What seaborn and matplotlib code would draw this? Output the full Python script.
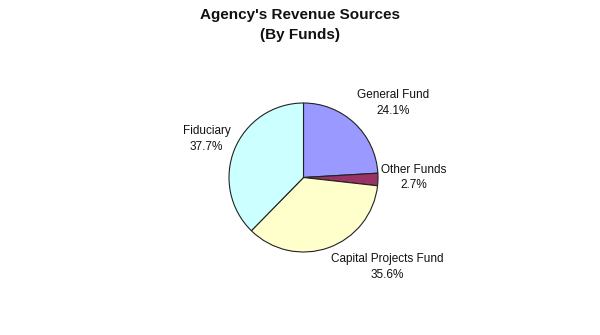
import matplotlib
matplotlib.use("Agg")
import matplotlib.pyplot as plt
import seaborn as sns

# Revenue sources by fund
funds = ["General Fund", "Other Funds", "Capital Projects Fund", "Fiduciary"]
shares = [24.1, 2.7, 35.6, 37.7]
colors = ["#9999FF", "#993366", "#FFFFCC", "#CCFFFF"]

sns.set_theme(style="white")
plt.rcParams["font.family"] = ["Liberation Sans", "DejaVu Sans"]

W, H = 600, 335
fig = plt.figure(figsize=(W / 100, H / 100), dpi=100)
fig.patch.set_facecolor("white")

# pie centre and radius in pixels
cx, cy, r = 303.5, 177.5, 74.5
ax = fig.add_axes([(cx - r) / W, 1 - (cy + r) / H, 2 * r / W, 2 * r / H])
ax.pie(shares, colors=colors, startangle=90, counterclock=False,
       wedgeprops=dict(edgecolor="#222222", linewidth=0.8))
ax.set_xlim(-1, 1)
ax.set_ylim(-1, 1)
ax.set_aspect("equal")
ax.axis("off")

# label anchors in pie-radius units
label_pos = [(1.20, 1.00), (1.48, 0.0), (1.13, -1.20), (-1.30, 0.52)]
for name, val, (u, v) in zip(funds, shares, label_pos):
    ax.text(u, v, f"{name}\n{val:.1f}%", ha="center", va="center",
            fontsize=8.5, color="#111111", linespacing=1.4, clip_on=False)

fig.text(0.5, 1 - 25 / H, "Agency's Revenue Sources\n(By Funds)",
         ha="center", va="center", fontsize=11, fontweight="bold",
         linespacing=1.5, color="#111111")

fig.savefig("out.png", dpi=100)
